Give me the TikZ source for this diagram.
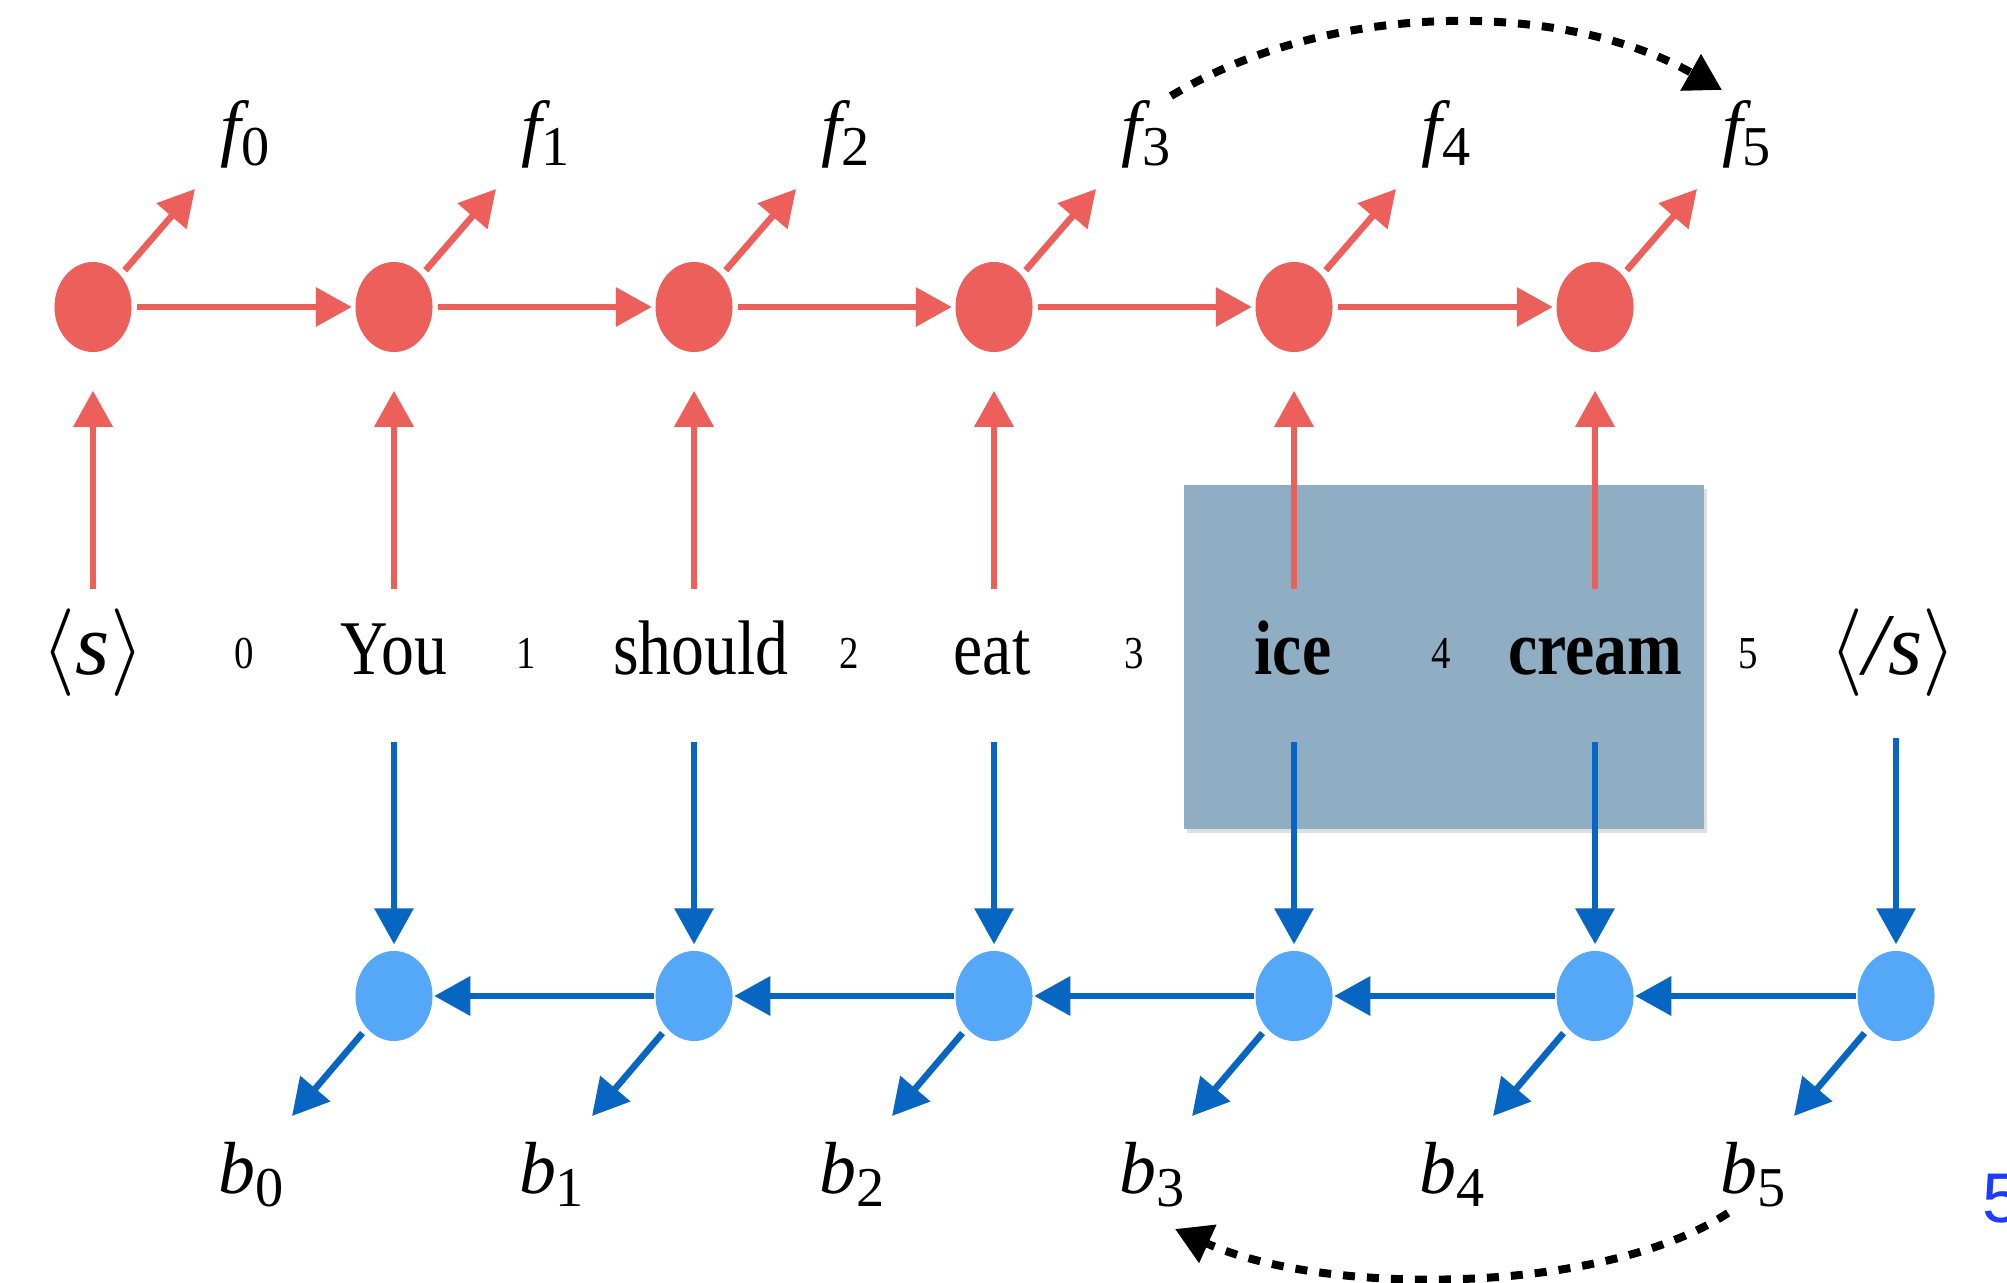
\documentclass[tikz,border=0pt]{standalone}
\usepackage{fontspec}
\setmainfont{Liberation Serif}
\newfontfamily\wfont[FakeStretch=0.85]{Liberation Serif}
\newfontfamily\slidefont{Liberation Sans}
\usetikzlibrary{arrows.meta,shadows,calc,shapes.geometric}
\definecolor{fred}{RGB}{237,95,90}
\definecolor{bnodec}{RGB}{85,168,248}
\definecolor{barrowc}{RGB}{6,102,194}
\definecolor{boxc}{RGB}{143,174,196}
\definecolor{slidec}{RGB}{30,60,255}
\newcommand\mylbl[2]{{\itshape #1}\raisebox{-0.13cm}{\fontsize{16}{16}\selectfont #2}}
\begin{document}
\begin{tikzpicture}[x=0.01cm,y=-0.01cm,
  rnode/.style={ellipse, fill=fred, minimum width=0.77cm, minimum height=0.9cm, inner sep=0pt},
  bnode/.style={ellipse, fill=bnodec, minimum width=0.77cm, minimum height=0.9cm, inner sep=0pt},
  rarr/.style={draw=fred, line width=0.065cm, -{Triangle[length=0.36cm,width=0.38cm]}},
  barr/.style={draw=barrowc, line width=0.065cm, -{Triangle[length=0.36cm,width=0.38cm]}},
  word/.style={font=\wfont\fontsize{22}{26}\selectfont, inner sep=0pt, anchor=base},
  tag/.style={font=\fontsize{25}{28}\selectfont, inner sep=0pt, anchor=base},
  idx/.style={font=\wfont\fontsize{13}{15}\selectfont, inner sep=0pt, anchor=base},
  lab/.style={font=\fontsize{21}{24}\selectfont, inner sep=0pt, anchor=base west},
  dasharc/.style={line width=0.08cm, dash pattern=on 0.12cm off 0.12cm, -{Triangle[length=0.36cm,width=0.4cm]}}
]
\useasboundingbox (0,0) rectangle (2007,1283);

% highlight box
\node[fill=boxc, minimum width=5.2cm, minimum height=3.44cm, inner sep=0pt,
  drop shadow={opacity=0.25, shadow xshift=0.03cm, shadow yshift=-0.04cm}] (hl) at (1444,657) {};

% forward (red) nodes and backward (blue) nodes
\foreach \i/\x in {0/93,1/394,2/694,3/994,4/1294,5/1595}{
  \node[rnode] (r\i) at (\x,307) {};
}
\foreach \i/\x in {0/394,1/694,2/994,3/1294,4/1595,5/1896}{
  \node[bnode] (b\i) at (\x,996) {};
}

% words
\node[tag] (w0) at (93,675) {$\langle$\textit{s}$\rangle$};
\node[word] (w1) at (394,675) {You};
\node[word] (w2) at (701,675) {should};
\node[word] (w3) at (992,675) {eat};
\node[word] (w4) at (1293,675) {\textbf{ice}};
\node[word] (w5) at (1595,675) {\textbf{cream}};
\node[tag] (w6) at (1893,675) {$\langle$\textit{/s}$\rangle$};

% indices
\foreach \i/\x in {0/244,1/526,2/849,3/1134,4/1441,5/1748}{
  \node[idx] (n\i) at (\x,669) {\i};
}

% f and b labels
\foreach \i in {0,...,5}{
  \node[lab] (f\i) at (220+300.3*\i,153) {\mylbl{f}{\i}};
  \node[lab] (bl\i) at (218+300.3*\i,1193) {\mylbl{b}{\i}};
}

% red up arrows
\foreach \i/\x in {0/93,1/394,2/694,3/994,4/1294,5/1595}{
  \coordinate (ru\i) at (\x,589);
  \draw[rarr, shorten >=0.38cm] (ru\i) -- (r\i);
  \coordinate (fe\i) at ($(r\i)+(102,-118)$);
  \draw[rarr, shorten <=0.06cm] (r\i) -- (fe\i);
}
\foreach \i [evaluate=\i as \j using int(\i+1)] in {0,...,4}{
  \draw[rarr, shorten <=0.05cm, shorten >=0.03cm] (r\i) -- (r\j);
}

% blue down arrows
\foreach \i/\x in {0/394,1/694,2/994,3/1294,4/1595}{
  \coordinate (bd\i) at (\x,742);
  \draw[barr, shorten >=0.06cm] (bd\i) -- (b\i);
}
\coordinate (bd5) at (1896,738);
\draw[barr, shorten >=0.06cm] (bd5) -- (b5);
\foreach \i in {0,...,5}{
  \coordinate (be\i) at ($(b\i)+(-102,120)$);
  \draw[barr, shorten <=0.06cm] (b\i) -- (be\i);
}
\foreach \i [evaluate=\i as \j using int(\i+1)] in {0,...,4}{
  \draw[barr, shorten <=0.01cm, shorten >=0.01cm] (b\j) -- (b\i);
}

% dashed arcs
\coordinate (ta) at (1171,96);
\coordinate (tb) at (1722,90);
\draw[dasharc] (ta) .. controls (1330,0) and (1562,0) .. (tb);
\coordinate (ba) at (1728,1213);
\coordinate (bb) at (1175,1229);
\draw[dasharc] (ba) .. controls (1600,1296) and (1323,1296) .. (bb);

% slide number (cut at the edge, as in the reference)
\node[font=\slidefont\fontsize{20}{21}\selectfont, text=slidec, inner sep=0pt, anchor=base west] (pg) at (1982,1222) {5};
\end{tikzpicture}
\end{document}
